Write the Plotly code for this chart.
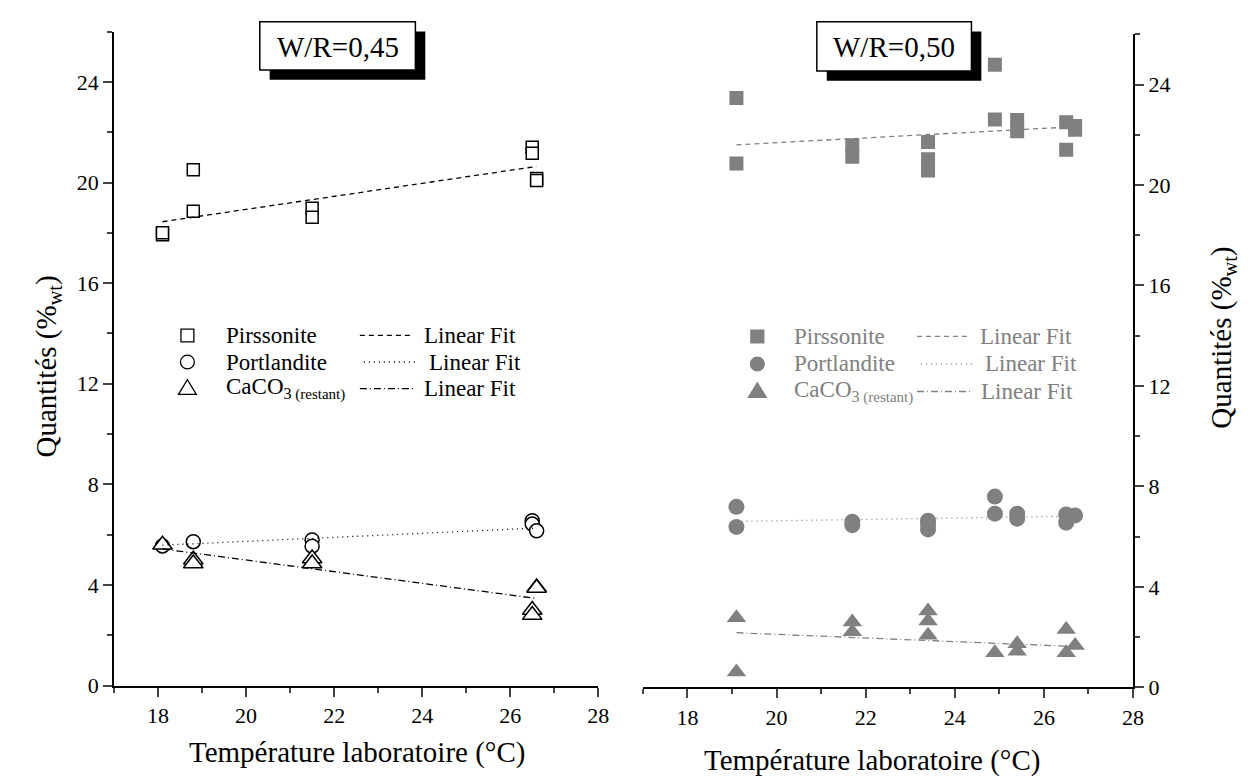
import plotly.graph_objects as go

W, H = 1250, 780
FONT = "Liberation Serif"
GREY = "#808080"

# W/R = 0,45 (left panel)
pirs_x_045 = [18.1, 18.1, 18.8, 18.8, 21.5, 21.5, 26.5, 26.5, 26.6, 26.6]
pirs_y_045 = [17.92, 18.0, 20.51, 18.86, 18.98, 18.62, 21.40, 21.16, 20.16, 20.08]
port_x_045 = [18.1, 18.8, 21.5, 21.5, 26.5, 26.5, 26.6]
port_y_045 = [5.55, 5.72, 5.79, 5.54, 6.55, 6.42, 6.15]
caco_x_045 = [18.1, 18.8, 18.8, 21.5, 21.5, 26.5, 26.5, 26.6, 26.6]
caco_y_045 = [5.6, 5.0, 4.85, 5.05, 4.85, 3.0, 2.8, 3.9, 3.88]
fit_x_045 = [18.1, 26.6]
pirs_fit_045 = [18.44, 20.64]
port_fit_045 = [5.58, 6.26]
caco_fit_045 = [5.43, 3.46]

# W/R = 0,50 (right panel)
pirs_x_050 = [19.1, 19.1, 21.7, 21.7, 23.4, 23.4, 23.4, 24.9, 24.9, 25.4, 25.4, 26.5, 26.5, 26.7, 26.7]
pirs_y_050 = [23.46, 20.86, 21.58, 21.12, 21.71, 21.03, 20.58, 24.79, 22.61, 22.59, 22.14, 22.50, 21.40, 22.35, 22.2]
port_x_050 = [19.1, 19.1, 21.7, 21.7, 23.4, 23.4, 23.4, 24.9, 24.9, 25.4, 25.4, 26.5, 26.5, 26.7]
port_y_050 = [7.19, 6.39, 6.60, 6.46, 6.64, 6.47, 6.29, 7.60, 6.92, 6.92, 6.72, 6.89, 6.56, 6.85]
caco_x_050 = [19.1, 19.1, 21.7, 21.7, 23.4, 23.4, 23.4, 24.9, 25.4, 25.4, 26.5, 26.5, 26.7]
caco_y_050 = [2.78, 0.62, 2.61, 2.22, 3.04, 2.65, 2.08, 1.38, 1.74, 1.44, 2.31, 1.38, 1.67]
fit_x_050 = [19.1, 26.7]
pirs_fit_050 = [21.60, 22.32]
port_fit_050 = [6.61, 6.82]
caco_fit_050 = [2.18, 1.63]

legend_names = ["Pirssonite", "Portlandite",
                "CaCO<sub>3</sub><sub><span style='font-size:15px'> (restant)</span></sub>"]
fit_label = "Linear Fit"
panel_titles = ["W/R=0,45", "W/R=0,50"]
x_title = "Température laboratoire (°C)"
y_title = "Quantités (%<sub>wt</sub>)"


def px(x):
    return x / W


def py(y):
    return 1 - y / H


fig = go.Figure()

open_marker = dict(color="white", line=dict(color="black", width=1.5))
# left panel markers
fig.add_trace(go.Scatter(x=pirs_x_045, y=pirs_y_045, mode="markers", xaxis="x", yaxis="y",
                         marker=dict(symbol="square", size=12, **open_marker)))
fig.add_trace(go.Scatter(x=port_x_045, y=port_y_045, mode="markers", xaxis="x", yaxis="y",
                         marker=dict(symbol="circle", size=14, **open_marker)))
fig.add_trace(go.Scatter(x=caco_x_045, y=caco_y_045, mode="markers", xaxis="x", yaxis="y",
                         marker=dict(symbol="triangle-up", size=17, **open_marker)))
# left fits
fig.add_trace(go.Scatter(x=fit_x_045, y=pirs_fit_045, mode="lines", xaxis="x", yaxis="y",
                         line=dict(color="black", width=1.3, dash="5px,4px")))
fig.add_trace(go.Scatter(x=fit_x_045, y=port_fit_045, mode="lines", xaxis="x", yaxis="y",
                         line=dict(color="black", width=1.3, dash="1px,4px")))
fig.add_trace(go.Scatter(x=fit_x_045, y=caco_fit_045, mode="lines", xaxis="x", yaxis="y",
                         line=dict(color="black", width=1.3, dash="7px,3px,1px,3px")))

# right panel markers
fig.add_trace(go.Scatter(x=pirs_x_050, y=pirs_y_050, mode="markers", xaxis="x2", yaxis="y2",
                         marker=dict(symbol="square", size=14, color=GREY)))
fig.add_trace(go.Scatter(x=port_x_050, y=port_y_050, mode="markers", xaxis="x2", yaxis="y2",
                         marker=dict(symbol="circle", size=16, color=GREY)))
fig.add_trace(go.Scatter(x=caco_x_050, y=caco_y_050, mode="markers", xaxis="x2", yaxis="y2",
                         marker=dict(symbol="triangle-up", size=17, color=GREY)))
fig.add_trace(go.Scatter(x=fit_x_050, y=pirs_fit_050, mode="lines", xaxis="x2", yaxis="y2",
                         line=dict(color=GREY, width=1.3, dash="5px,4px")))
fig.add_trace(go.Scatter(x=fit_x_050, y=port_fit_050, mode="lines", xaxis="x2", yaxis="y2",
                         line=dict(color=GREY, width=1.3, dash="1px,4px")))
fig.add_trace(go.Scatter(x=fit_x_050, y=caco_fit_050, mode="lines", xaxis="x2", yaxis="y2",
                         line=dict(color=GREY, width=1.3, dash="7px,3px,1px,3px")))

xax = dict(range=[17, 28], tick0=18, dtick=2, ticks="outside", ticklen=9, tickwidth=2,
           showline=True, linewidth=2, linecolor="black", showgrid=False, zeroline=False,
           tickfont=dict(family=FONT, size=22, color="black"),
           minor=dict(tick0=17, dtick=1, ticks="outside", ticklen=5, tickwidth=2, showgrid=False))
yax = dict(range=[0, 26], tick0=0, dtick=4, ticks="outside", ticklen=9, tickwidth=2,
           showline=True, linewidth=2, linecolor="black", showgrid=False, zeroline=False,
           tickfont=dict(family=FONT, size=22, color="black"),
           minor=dict(tick0=0, dtick=2, ticks="outside", ticklen=5, tickwidth=2, showgrid=False))

fig.update_layout(
    width=W, height=H, margin=dict(l=0, r=0, t=0, b=0),
    paper_bgcolor="white", plot_bgcolor="white", showlegend=False,
    font=dict(family=FONT, color="black"),
    xaxis=dict(xax, domain=[px(107), px(595.5)], anchor="y"),
    yaxis=dict(yax, domain=[py(689), py(24)], anchor="x"),
    xaxis2=dict(xax, domain=[px(640.5), px(1135)], anchor="y2"),
    yaxis2=dict(yax, domain=[py(691), py(26.7)], anchor="x2", side="right"),
)

shapes = []
annotations = []

# title boxes with drop shadow
for title, (bx0, by0, bx1, by1) in zip(panel_titles, [(254, 14, 411, 63), (816, 14, 972, 64)]):
    shapes.append(dict(type="rect", xref="paper", yref="paper", x0=px(bx0 + 10), x1=px(bx1 + 10),
                       y0=py(by0 + 10), y1=py(by1 + 10), fillcolor="black", line=dict(width=0)))
    shapes.append(dict(type="rect", xref="paper", yref="paper", x0=px(bx0), x1=px(bx1),
                       y0=py(by0), y1=py(by1), fillcolor="white", line=dict(color="black", width=1.5)))
    annotations.append(dict(text=title, xref="paper", yref="paper", x=px((bx0 + bx1) / 2),
                            y=py((by0 + by1) / 2 + 1), showarrow=False, xanchor="center",
                            yanchor="middle", font=dict(family=FONT, size=29)))

# axis titles
for xc, yc in [(352, 757), (872, 765)]:
    annotations.append(dict(text=x_title, xref="paper", yref="paper", x=px(xc), y=py(yc),
                            showarrow=False, xanchor="center", yanchor="middle",
                            font=dict(family=FONT, size=29)))
for xc, yc in [(40, 365), (1226, 335)]:
    annotations.append(dict(text=y_title, xref="paper", yref="paper", x=px(xc), y=py(yc),
                            showarrow=False, textangle=-90, xanchor="center", yanchor="middle",
                            font=dict(family=FONT, size=29)))

# hand-drawn legends (marker + name, line sample + "Linear Fit")
legend_specs = [
    dict(mx=181, tx=218, rows=[333, 360, 387], color="black", filled=False,
         lines=[(355, 407, 418), (359, 413, 423), (355, 410, 418)]),
    dict(mx=756, tx=791, rows=[334, 362, 390], color=GREY, filled=True,
         lines=[(917, 968, 979), (921, 975, 984), (917, 973, 980)]),
]
for spec in legend_specs:
    c = spec["color"]
    fill = c if spec["filled"] else "white"
    for i, ry in enumerate(spec["rows"]):
        mx = spec["mx"]
        if i == 0:
            shapes.append(dict(type="rect", xref="paper", yref="paper", x0=px(mx - 6.5), x1=px(mx + 6.5),
                               y0=py(ry - 6.5), y1=py(ry + 6.5), fillcolor=fill, line=dict(color=c, width=1.3)))
        elif i == 1:
            shapes.append(dict(type="circle", xref="paper", yref="paper", x0=px(mx - 7), x1=px(mx + 7),
                               y0=py(ry - 7), y1=py(ry + 7), fillcolor=fill, line=dict(color=c, width=1.3)))
        else:
            path = "M {} {} L {} {} L {} {} Z".format(px(mx - 9), py(ry + 6), px(mx + 9), py(ry + 6),
                                                       px(mx), py(ry - 9))
            shapes.append(dict(type="path", xref="paper", yref="paper", path=path, fillcolor=fill,
                               line=dict(color=c, width=1.3)))
        annotations.append(dict(text=legend_names[i], xref="paper", yref="paper", x=px(spec["tx"]),
                                y=py(ry), showarrow=False, xanchor="left", yanchor="middle",
                                font=dict(family=FONT, size=23, color=c)))
        lx0, lx1, tx = spec["lines"][i]
        dash = ["5px,4px", "1px,4px", "7px,3px,1px,3px"][i]
        shapes.append(dict(type="line", xref="paper", yref="paper", x0=px(lx0), x1=px(lx1),
                           y0=py(ry), y1=py(ry), line=dict(color=c, width=1.3, dash=dash)))
        annotations.append(dict(text=fit_label, xref="paper", yref="paper", x=px(tx), y=py(ry),
                                showarrow=False, xanchor="left", yanchor="middle",
                                font=dict(family=FONT, size=23, color=c)))

fig.update_layout(shapes=shapes, annotations=annotations)

fig.write_html("out.html")
